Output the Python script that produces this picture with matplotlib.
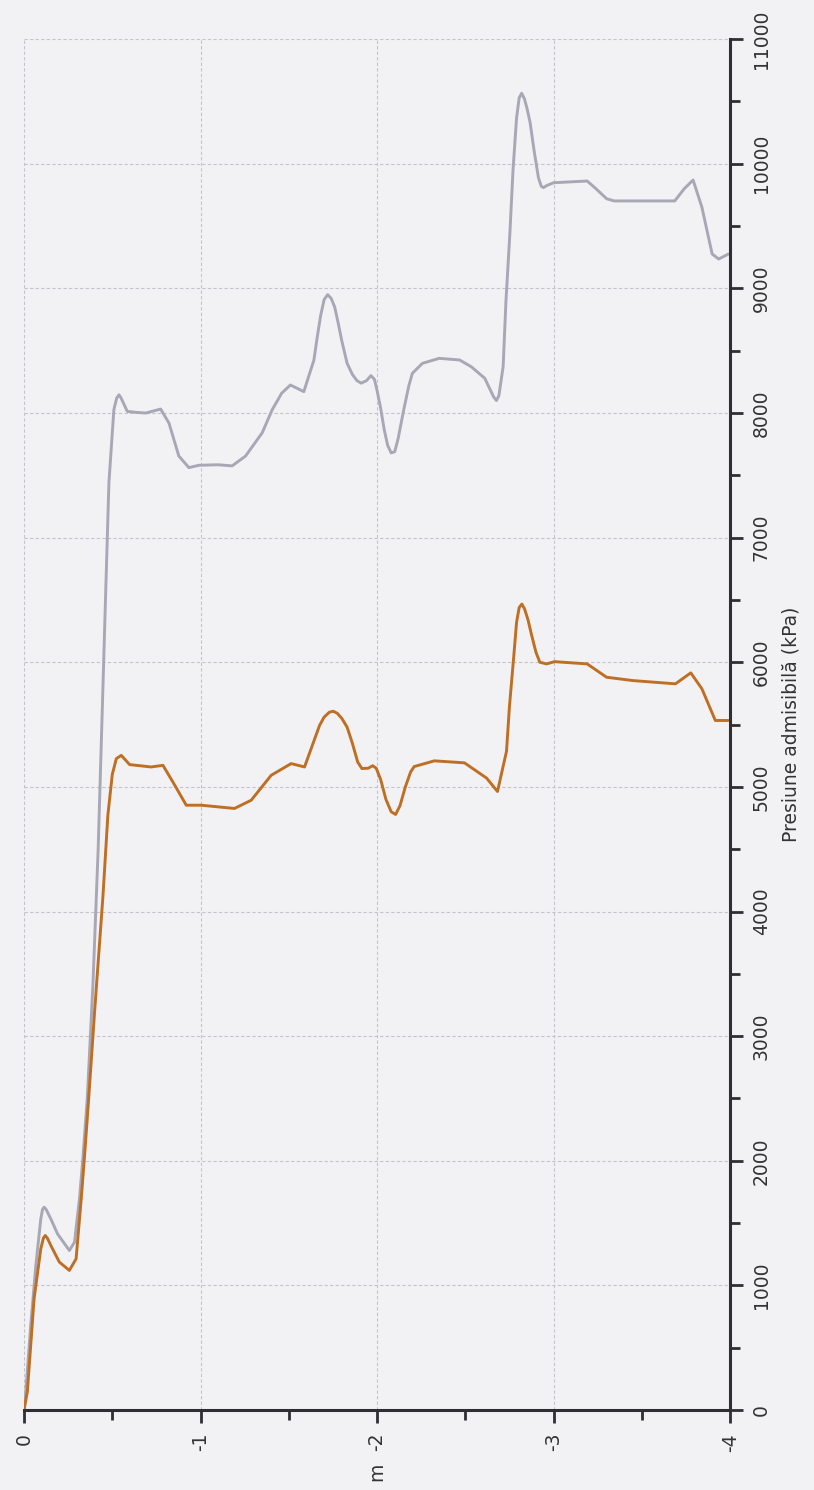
import numpy as np
import matplotlib.pyplot as plt
from matplotlib.ticker import MultipleLocator

# depth (m) and allowable pressure (kPa)
depth_gray = [0, -0.01, -0.038, -0.067, -0.095, -0.105, -0.114, -0.125, -0.152, -0.19,
              -0.257, -0.286, -0.314, -0.333, -0.358, -0.39, -0.42, -0.445, -0.462, -0.481,
              -0.509, -0.525, -0.538, -0.55, -0.585, -0.64, -0.69, -0.774, -0.821, -0.877,
              -0.934, -0.991, -1.1, -1.179, -1.255, -1.349, -1.406, -1.46, -1.509, -1.585,
              -1.642, -1.66, -1.68, -1.70, -1.72, -1.74, -1.76, -1.78, -1.80, -1.83,
              -1.86, -1.886, -1.91, -1.94, -1.965, -1.985, -2.0, -2.02, -2.04, -2.06,
              -2.08, -2.10, -2.12, -2.15, -2.18, -2.2, -2.257, -2.352, -2.467, -2.533,
              -2.61, -2.66, -2.676, -2.69, -2.714, -2.73, -2.752, -2.77, -2.79, -2.805,
              -2.819, -2.835, -2.85, -2.867, -2.89, -2.914, -2.93, -2.943, -2.96, -3.0,
              -3.19, -3.24, -3.30, -3.343, -3.686, -3.74, -3.79, -3.84, -3.898, -3.935,
              -3.99]
pres_gray = [0, 147, 680, 1160, 1533, 1610, 1627, 1610, 1533, 1413,
             1280, 1347, 1693, 2013, 2493, 3400, 4500, 5700, 6528, 7443,
             8027, 8120, 8146, 8120, 8013, 8005, 8000, 8032, 7920, 7655,
             7562, 7581, 7585, 7576, 7655, 7841, 8027, 8160, 8225, 8172,
             8424, 8600, 8780, 8910, 8950, 8920, 8850, 8720, 8580, 8400,
             8310, 8260, 8240, 8260, 8300, 8270, 8180, 8040, 7870, 7740,
             7680, 7690, 7800, 8020, 8220, 8319, 8399, 8439, 8426, 8372,
             8279, 8130, 8100, 8140, 8372, 8900, 9436, 9950, 10367, 10530,
             10566, 10520, 10440, 10330, 10100, 9888, 9820, 9809, 9825, 9848,
             9862, 9800, 9720, 9702, 9702, 9800, 9870, 9651, 9276, 9236,
             9276]

depth_orange = [0, -0.019, -0.057, -0.095, -0.11, -0.12, -0.132, -0.152, -0.2, -0.257,
                -0.295, -0.324, -0.343, -0.366, -0.40, -0.447, -0.475, -0.50, -0.523, -0.551,
                -0.598, -0.72, -0.787, -0.843, -0.919, -1.004, -1.192, -1.287, -1.4, -1.513,
                -1.589, -1.674, -1.70, -1.73, -1.752, -1.775, -1.80, -1.83, -1.86, -1.89,
                -1.914, -1.95, -1.975, -1.995, -2.02, -2.05, -2.08, -2.105, -2.13, -2.16,
                -2.19, -2.21, -2.324, -2.495, -2.62, -2.682, -2.733, -2.75, -2.773, -2.79,
                -2.805, -2.82, -2.835, -2.855, -2.875, -2.90, -2.922, -2.96, -3.005, -3.19,
                -3.30, -3.45, -3.69, -3.777, -3.84, -3.916, -3.99]
pres_orange = [0, 147, 893, 1293, 1380, 1400, 1380, 1320, 1187, 1120,
               1213, 1693, 2040, 2493, 3200, 4120, 4773, 5100, 5227, 5253,
               5179, 5160, 5173, 5040, 4853, 4853, 4827, 4893, 5093, 5187,
               5160, 5493, 5560, 5600, 5607, 5590, 5550, 5480, 5350, 5200,
               5147, 5150, 5170, 5150, 5060, 4900, 4800, 4779, 4850, 5000,
               5120, 5163, 5209, 5193, 5071, 4963, 5285, 5650, 6027, 6320,
               6440, 6467, 6430, 6340, 6220, 6080, 6000, 5987, 6005, 5987,
               5880, 5853, 5827, 5915, 5787, 5533, 5533]

bg = '#f2f2f4'
fig = plt.figure(figsize=(8.14, 14.90), dpi=100, facecolor=bg)
ax = fig.add_axes([0.0295, 0.0537, 0.8675, 0.920], facecolor=bg)

ax.plot(depth_gray, pres_gray, color='#a8a7b6', lw=2.1,
        solid_joinstyle='round', solid_capstyle='round')
ax.plot(depth_orange, pres_orange, color='#bf6f24', lw=2.1,
        solid_joinstyle='round', solid_capstyle='round')

ax.set_xlim(0, -4)
ax.set_ylim(0, 11000)

ax.xaxis.set_major_locator(MultipleLocator(1))
ax.xaxis.set_minor_locator(MultipleLocator(0.5))
ax.yaxis.set_major_locator(MultipleLocator(1000))
ax.yaxis.set_minor_locator(MultipleLocator(500))

ax.yaxis.tick_right()
ax.yaxis.set_label_position('right')

for s in ['left', 'top']:
    ax.spines[s].set_visible(False)
for s in ['bottom', 'right']:
    ax.spines[s].set_color('#2e2e33')
    ax.spines[s].set_linewidth(2.2)

ax.tick_params(axis='both', which='major', length=9.5, width=2, color='#2e2e33',
               labelsize=13.5, labelcolor='#333333')
ax.tick_params(axis='both', which='minor', length=7, width=2, color='#2e2e33')
ax.tick_params(axis='x', which='major', pad=7)
ax.tick_params(axis='y', which='major', pad=6)

ax.set_xticks([0, -1, -2, -3, -4])
ax.set_xticklabels(['0', '-1', '-2', '-3', '-4'], rotation=90)
for lab in ax.get_yticklabels():
    lab.set_rotation(90)
    lab.set_va('center')

ax.set_xlabel('m', fontsize=13.5, rotation=90, color='#333333', labelpad=8)
ax.set_ylabel('Presiune admisibilă (kPa)', fontsize=13.5, rotation=90,
              color='#333333', labelpad=8)

ax.grid(True, which='major', color='#c4c4cc', linestyle=(0, (3, 2)), linewidth=0.8)
ax.set_axisbelow(True)

plt.savefig('out.png', dpi=100, facecolor=bg)
